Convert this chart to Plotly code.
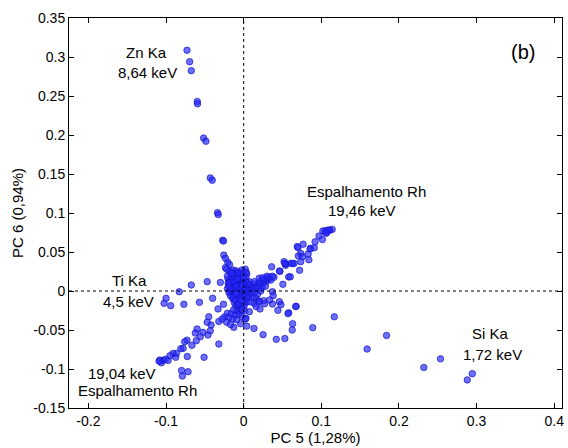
import plotly.graph_objects as go

# ---- data (PC5, PC6 scores) ----
zn_x = [-0.073, -0.0696, -0.0675, -0.0598, -0.0595, -0.0517, -0.0487, -0.043, -0.0405,
        -0.0337, -0.0328, -0.027, -0.026, -0.0256, -0.0235, -0.0205, -0.0183, -0.0235, -0.022]
zn_y = [0.3086, 0.294, 0.2825, 0.243, 0.240, 0.196, 0.192, 0.145, 0.142,
        0.1004, 0.098, 0.065, 0.064, 0.046, 0.042, 0.0368, 0.034, 0.030, 0.028]

ti_x = [-0.083, -0.100, -0.1025, -0.094, -0.077, -0.0675, -0.057, -0.047, -0.040, -0.030,
        -0.033, -0.026, -0.0244, -0.0277, -0.021, -0.032]
ti_y = [-0.001, -0.0094, -0.0158, -0.0188, -0.017, 0.0077, -0.0145, 0.012, -0.0094, 0.011,
        -0.023, -0.017, -0.033, -0.036, -0.0286, -0.039]

rh1_x = [-0.045, -0.047, -0.042, -0.043, -0.046, -0.060, -0.0623, -0.0525, -0.056,
         -0.073, -0.076, -0.0667, -0.061, -0.081, -0.078, -0.0867, -0.091, -0.0876, -0.095,
         -0.1008, -0.104, -0.108, -0.0973, -0.051, -0.032, -0.080, -0.0717, -0.079, -0.0128,
         -0.0726, -0.106, -0.109]
rh1_y = [-0.033, -0.040, -0.0436, -0.051, -0.0564, -0.0487, -0.054, -0.053, -0.0586,
         -0.063, -0.065, -0.0696, -0.0637, -0.074, -0.0735, -0.080, -0.080, -0.085, -0.083,
         -0.0876, -0.089, -0.0885, -0.089, -0.085, -0.068, -0.102, -0.1035, -0.109, -0.0466,
         -0.084, -0.092, -0.090]

core_x = [-0.018, -0.014, -0.010, -0.006, -0.002, 0.002, 0.004, -0.016, -0.012, -0.008,
          -0.004, 0.000, 0.003, -0.020, -0.017, -0.013, -0.009, -0.005, -0.001, 0.002,
          -0.019, -0.015, -0.011, -0.007, -0.003, 0.001, 0.005, -0.021, -0.017, -0.013,
          -0.009, -0.005, -0.001, 0.003, 0.007, -0.019, -0.015, -0.011, -0.007, -0.003,
          0.001, 0.005, 0.009, -0.017, -0.013, -0.009, -0.005, -0.001, 0.003, 0.007,
          -0.014, -0.010, -0.006, -0.002, 0.002, 0.006, -0.012, -0.008, -0.004, 0.000,
          0.004, -0.010, -0.006, -0.002, -0.013, -0.008, -0.004, 0.001, -0.016, -0.011,
          -0.006, -0.002, -0.019, -0.014, -0.009, 0.002, -0.022, -0.017, 0.004, -0.004,
          -0.003, 0.003, 0.007, -0.008, -0.015, -0.020, -0.011, -0.007, -0.001, 0.004,
          -0.017, -0.012, -0.005, 0.000, -0.009, -0.018, -0.014, -0.002,
          -0.021, -0.016, -0.012, -0.008, -0.004, 0.000, 0.006, -0.019, -0.015, -0.010,
          -0.006, -0.002, 0.002, -0.014, -0.009, -0.004, 0.001, -0.011, -0.007, -0.003]
core_y = [0.025, 0.027, 0.026, 0.024, 0.027, 0.028, 0.022, 0.020, 0.021, 0.019,
          0.020, 0.021, 0.017, 0.015, 0.013, 0.016, 0.014, 0.015, 0.014, 0.012,
          0.008, 0.009, 0.010, 0.009, 0.010, 0.008, 0.007, 0.003, 0.004, 0.005,
          0.004, 0.005, 0.004, 0.003, 0.004, -0.002, -0.001, 0.000, -0.001, 0.000,
          -0.001, -0.002, 0.001, -0.006, -0.005, -0.006, -0.004, -0.005, -0.006, -0.005,
          -0.010, -0.011, -0.009, -0.010, -0.011, -0.009, -0.015, -0.016, -0.014, -0.015,
          -0.014, -0.020, -0.021, -0.019, -0.024, -0.026, -0.024, -0.025, -0.029, -0.031,
          -0.030, -0.033, -0.034, -0.036, -0.037, -0.036, -0.040, -0.043, -0.045, -0.042,
          0.022, 0.024, 0.012, 0.023, 0.018, 0.010, 0.002, 0.006, 0.017, 0.011,
          0.000, 0.007, -0.002, 0.001, -0.003, 0.011, 0.022, 0.009,
          0.019, 0.023, 0.012, 0.016, 0.007, 0.017, 0.002, 0.005, 0.002, 0.006,
          0.002, 0.006, 0.001, -0.008, -0.003, -0.008, -0.018, -0.012, -0.017, -0.012]

arm_x = [0.008, 0.011, 0.014, 0.017, 0.020, 0.023, 0.026, 0.029, 0.032, 0.035,
         0.012, 0.016, 0.020, 0.024, 0.028, 0.010, 0.014, 0.018, 0.022, 0.012,
         0.016, 0.009, 0.014, 0.019, 0.0137, 0.020, 0.0244, 0.0287, 0.033, 0.039,
         0.037, 0.0467, 0.0505, 0.058, 0.036, 0.046, 0.037, 0.030, 0.024]
arm_y = [0.008, 0.006, 0.009, 0.007, 0.011, 0.009, 0.013, 0.012, 0.015, 0.014,
         0.002, 0.003, 0.004, 0.005, 0.006, -0.003, -0.002, -0.004, 0.000, -0.008,
         -0.010, -0.014, -0.016, -0.013, 0.012, 0.0163, 0.014, 0.0163, 0.018, 0.0176,
         -0.001, 0.0252, 0.0086, 0.018, 0.031, 0.0256, 0.019, 0.019, 0.017]

rh2_x = [0.052, 0.054, 0.061, 0.065, 0.069, 0.0765, 0.0735, 0.0705, 0.0757, 0.083,
         0.084, 0.0735, 0.086, 0.092, 0.097, 0.1014, 0.1065, 0.110, 0.114, 0.105,
         0.111, 0.108, 0.102, 0.106, 0.070, 0.0855, 0.091, 0.072, 0.063, 0.060,
         0.054, 0.053]
rh2_y = [0.0376, 0.033, 0.0355, 0.0355, 0.057, 0.060, 0.048, 0.045, 0.044, 0.0474,
         0.040, 0.0376, 0.0547, 0.063, 0.0705, 0.066, 0.074, 0.078, 0.079, 0.077,
         0.078, 0.078, 0.077, 0.075, 0.0555, 0.054, 0.0555, 0.0265, 0.035, 0.0183,
         0.0346, 0.0355]

low_x = [0.1167, 0.089, 0.063, 0.0625, 0.0676, 0.058, 0.053, 0.042, 0.025, 0.0133,
         0.046, 0.048, 0.044, 0.037, 0.038, 0.016, 0.0256, 0.027, 0.0333, 0.021,
         -0.002, 0.003, 0.0073, 0.020, 0.057, 0.067, 0.159, 0.184, 0.232, 0.2535,
         0.288, 0.2945]
low_y = [-0.033, -0.047, -0.042, -0.050, -0.0196, -0.028, -0.061, -0.062, -0.056, -0.048,
         -0.0137, -0.0175, -0.0248, -0.0167, -0.006, -0.020, -0.0124, -0.0163, -0.0115, -0.023,
         -0.024, -0.035, -0.0265, -0.0137, -0.029, -0.020, -0.0744, -0.057, -0.098, -0.087,
         -0.114, -0.106]

pc5 = zn_x + ti_x + rh1_x + core_x + arm_x + rh2_x + low_x
pc6 = zn_y + ti_y + rh1_y + core_y + arm_y + rh2_y + low_y

x_tickvals = [-0.2, -0.1, 0, 0.1, 0.2, 0.3, 0.4]
x_ticktext = ["-0.2", "-0.1", "0", "0.1", "0.2", "0.3", "0.4"]
y_tickvals = [-0.15, -0.1, -0.05, 0, 0.05, 0.1, 0.15, 0.2, 0.25, 0.3, 0.35]
y_ticktext = ["-0.15", "-0.1", "-0.05", "0", "0.05", "0.1", "0.15", "0.2", "0.25", "0.3", "0.35"]

labels = [
    ("Zn Ka", -0.1247, 0.306),
    ("8,64 keV", -0.1235, 0.280),
    ("Espalhamento Rh", 0.158, 0.127),
    ("19,46 keV", 0.1525, 0.1026),
    ("Ti Ka", -0.1465, 0.0141),
    ("4,5 keV", -0.148, -0.0137),
    ("19,04 keV", -0.157, -0.1055),
    ("Espalhamento Rh", -0.1372, -0.128),
    ("Si Ka", 0.318, -0.054),
    ("1,72 keV", 0.3208, -0.0808),
]

FONT = "Liberation Sans, Arial, sans-serif"

fig = go.Figure()
fig.add_trace(go.Scatter(
    x=pc5, y=pc6, mode="markers",
    marker=dict(size=6.5, color="rgba(40,40,255,0.68)",
                line=dict(color="rgba(20,20,190,0.85)", width=0.8)),
    showlegend=False, hoverinfo="skip"))

fig.add_shape(type="line", xref="x", yref="paper", x0=0, x1=0, y0=0, y1=1,
              line=dict(color="black", width=1, dash="dot"), layer="above")
fig.add_shape(type="line", xref="paper", yref="y", x0=0, x1=1, y0=0, y1=0,
              line=dict(color="black", width=1, dash="dot"), layer="above")

for txt, ax, ay in labels:
    fig.add_annotation(x=ax, y=ay, text=txt, showarrow=False,
                       xanchor="center", yanchor="middle",
                       font=dict(family=FONT, size=15, color="black"))
fig.add_annotation(x=0.360, y=0.307, text="(b)", showarrow=False,
                   xanchor="center", yanchor="middle",
                   font=dict(family=FONT, size=20, color="black"))

axis_common = dict(showgrid=False, zeroline=False, showline=True, linecolor="black",
                   linewidth=1, mirror="ticks", ticks="inside", ticklen=5,
                   tickcolor="black", tickfont=dict(family=FONT, size=14, color="black"))

fig.update_layout(
    width=568, height=448,
    margin=dict(l=69, r=4, t=18, b=40),
    paper_bgcolor="white", plot_bgcolor="white",
    font=dict(family=FONT, size=14, color="black"),
    xaxis=dict(range=[-0.225, 0.41], tickvals=x_tickvals, ticktext=x_ticktext,
               title=dict(text="PC 5 (1,28%)", font=dict(family=FONT, size=15), standoff=2),
               **axis_common),
    yaxis=dict(range=[-0.15, 0.35], tickvals=y_tickvals, ticktext=y_ticktext,
               title=dict(text="PC 6 (0,94%)", font=dict(family=FONT, size=15), standoff=6),
               **axis_common),
)

fig.write_html("out.html")
